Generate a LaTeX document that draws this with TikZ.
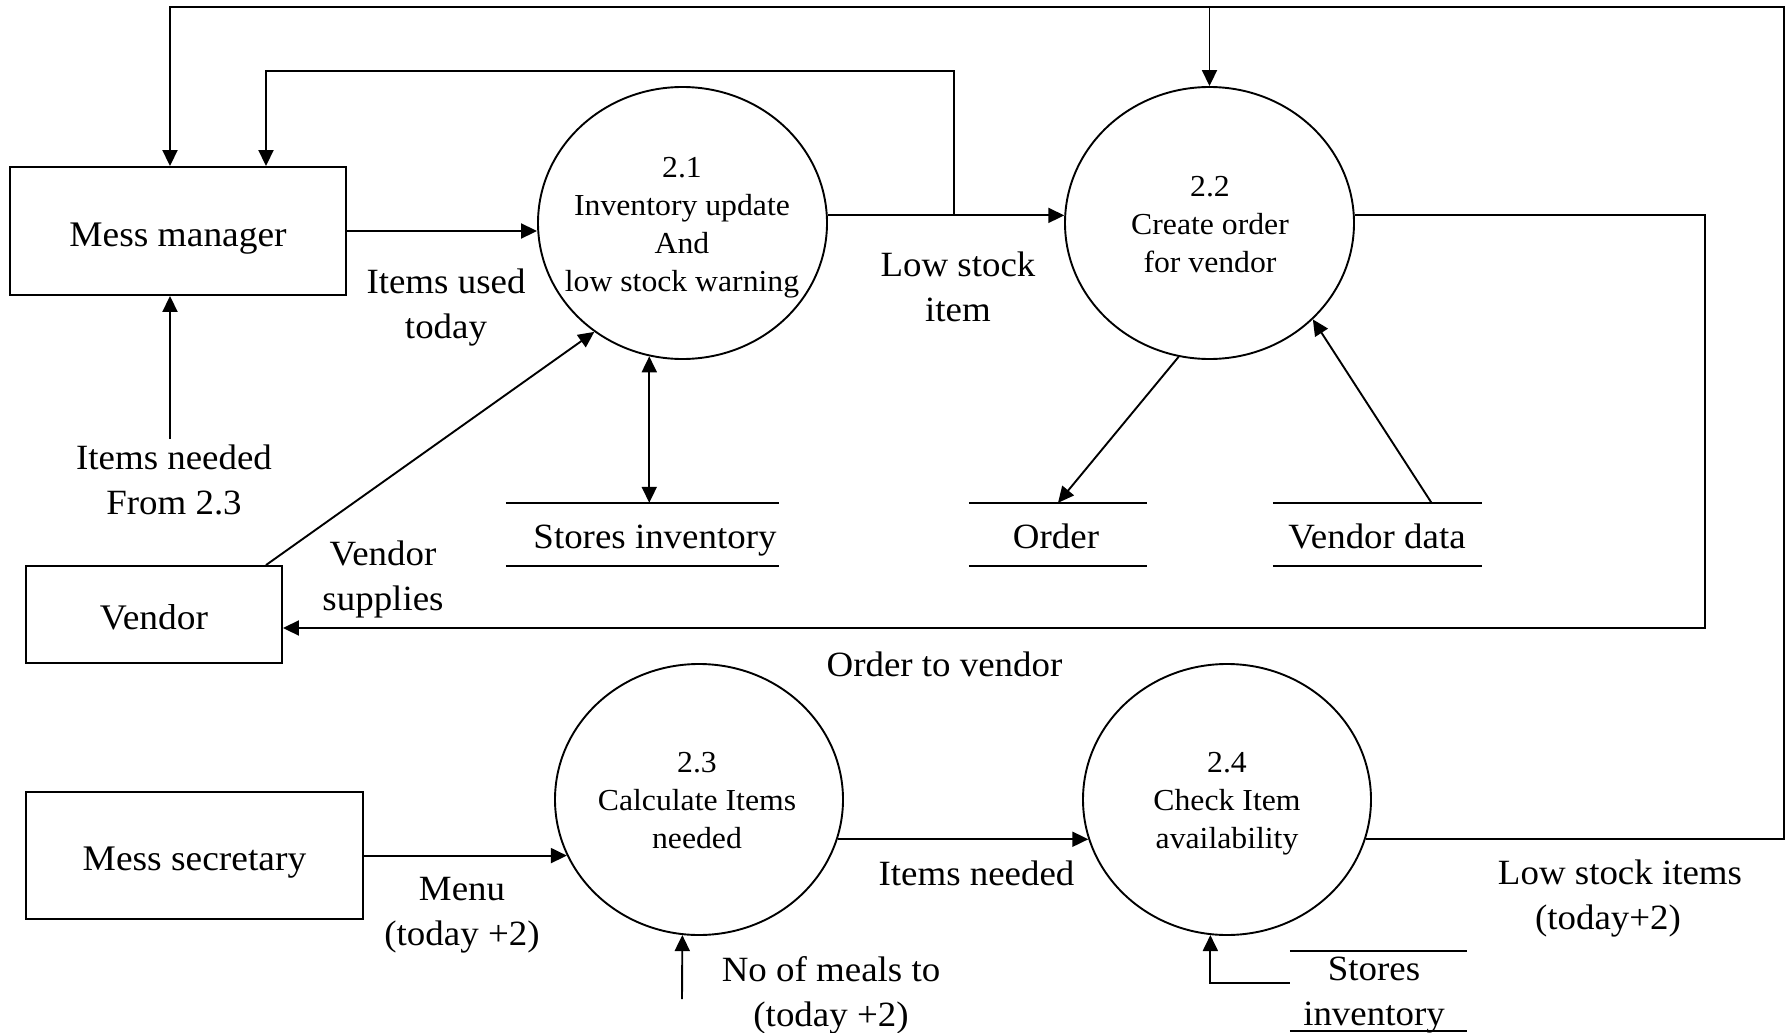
\documentclass[tikz,border=0pt]{standalone}
\usepackage{fontspec}
\setmainfont{Liberation Serif}[FakeStretch=1.04]
\usetikzlibrary{arrows.meta,shapes.geometric}
\begin{document}
\begin{tikzpicture}[x=1pt,y=-1pt,
  line/.style={line width=1.9pt, line join=miter},
  tip/.tip={Triangle[length=16pt,width=15pt]},
  flow/.style={line, -tip},
  twoway/.style={line, tip-tip},
  entity/.style={draw, line width=1.9pt, inner sep=0pt, text height=30pt, text depth=0pt,
    font=\fontsize{36}{45}\selectfont},
  proc/.style={draw, ellipse, line width=1.9pt, inner sep=0pt},
  ptext/.style={align=center, inner sep=0pt, font=\fontsize{30.5}{38}\selectfont},
  lbl/.style={align=center, inner sep=0pt, font=\fontsize{35.5}{45}\selectfont},
  store/.style={inner sep=0pt},
]
\useasboundingbox (0,0) rectangle (1791,1033);

% external entities
\node[entity, minimum width=336pt, minimum height=128pt] (mm) at (178,231) {Mess manager};
\node[entity, minimum width=256pt, minimum height=97pt] (vendor) at (154,614.5) {Vendor};
\node[entity, minimum width=337pt, minimum height=127pt] (ms) at (194.5,855.5) {Mess secretary};

% processes
\node[proc, minimum width=289pt, minimum height=272pt] (p21) at (682.5,223) {};
\node[proc, minimum width=289pt, minimum height=272pt] (p22) at (1209.5,223) {};
\node[proc, minimum width=288pt, minimum height=271pt] (p23) at (699,799.5) {};
\node[proc, minimum width=288pt, minimum height=271pt] (p24) at (1227,799.5) {};
\node[ptext] (t21) at (682,228) {2.1\\Inventory update\\And\\low stock warning};
\node[ptext] (t22) at (1210,225) {2.2\\Create order\\for vendor};
\node[ptext] (t23) at (697,800.5) {2.3\\Calculate Items\\needed};
\node[ptext] (t24) at (1227,804) {2.4\\Check Item\\availability};

% data stores: two parallel lines each
\node[store, minimum width=273pt, minimum height=63pt] (sinv) at (642.5,534.5) {};
\node[store, minimum width=178pt, minimum height=63pt] (order) at (1058,534.5) {};
\node[store, minimum width=209pt, minimum height=63pt] (vdata) at (1377.5,534.5) {};
\node[store, minimum width=177pt, minimum height=80pt] (sbot) at (1378.5,991) {};
\foreach \s in {sinv,order,vdata,sbot}
  \draw[line] (\s.north west) -- (\s.north east) (\s.south west) -- (\s.south east);
\node[lbl] (tsinv) at (655,540.5) {Stores inventory};
\node[lbl] (torder) at (1056,536.5) {Order};
\node[lbl] (tvdata) at (1377,536.5) {Vendor data};
\node[lbl] (tsbot) at (1374,995) {Stores\\inventory};

% flow labels
\node[lbl] (lused) at (446,308) {Items used\\today};
\node[lbl] (lneed) at (174,480) {Items needed\\From 2.3};
\node[lbl] (llow) at (958,287) {Low stock\\item};
\node[lbl] (lsup) at (383,579) {Vendor\\supplies};
\node[lbl] (lord) at (944.5,664.5) {Order to vendor};
\node[lbl] (lmenu) at (462,915.5) {Menu\\(today +2)};
\node[lbl] (lin) at (976.5,873) {Items needed};
\node[lbl] (lmeal) at (831,995.5) {No of meals to\\(today +2)};
\node[lbl] (llsi) at (1620,899) {Low stock items\\(today+2)\hspace*{24pt}};

% routing points
\coordinate (c1) at (954,71);
\coordinate (c2) at (266,71);
\coordinate (o1) at (1784,7);
\coordinate (o2) at (170,7);
\coordinate (o3) at (1209.5,7);
\coordinate (o4) at (1705,628);
\coordinate (in1) at (170,439);
\coordinate (in2) at (682,999);

% flows
\draw[flow] (mm.east) -- (mm.east -| p21.west);
\draw[flow] (p21.3) -- (p22.177);
\draw[flow] (c1 |- p21.3) -- (c1) -- (c2) -- (c2 |- mm.north);
\draw[flow] (p24.344) -- (o1 |- p24.344) -- (o1) -- (o2) -- (o2 |- mm.north);
\draw[flow] (o3) -- (p22.north);
\draw[flow] (p22.3) -- (o4 |- p22.3) -- (o4) -- (o4 -| vendor.east);
\draw[flow] (in1) -- (in1 |- mm.south);
\draw[flow] ([xshift=112pt]vendor.north) -- (p21.231);
\draw[twoway] (p21.256) -- (p21.256 |- sinv.north);
\draw[flow] (p22.257) -- (order.north);
\draw[flow] ([xshift=54pt]vdata.north) -- (p22.317);
\draw[flow] (ms.east |- p23.203) -- (p23.203);
\draw[flow] (p23.344) -- (p24.196);
\draw[flow] (in2) -- (p23.263);
\draw[flow] ([yshift=8pt]sbot.west) -| (p24.263);
\end{tikzpicture}
\end{document}
